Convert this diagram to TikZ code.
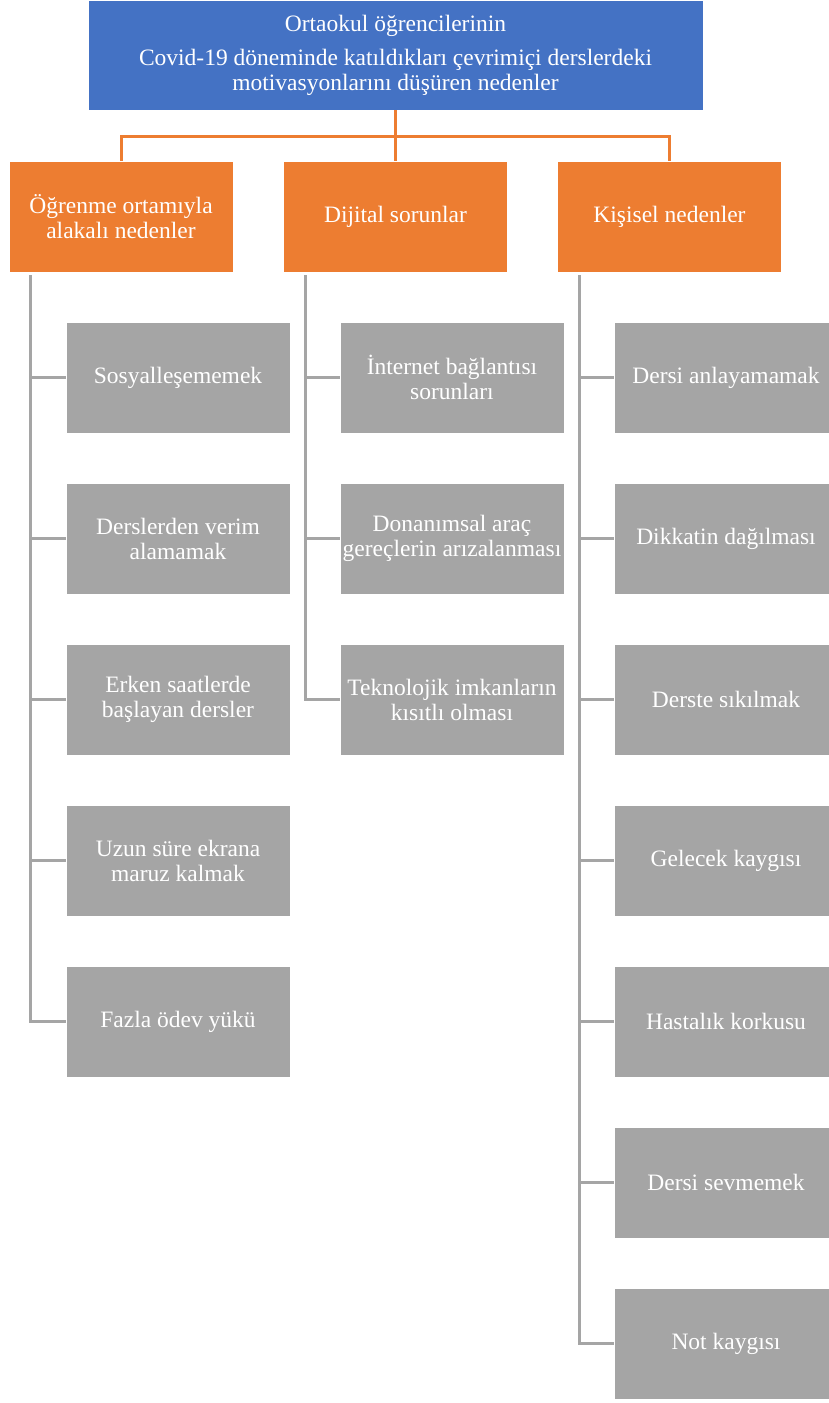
\documentclass[tikz,border=0pt]{standalone}
\usepackage{fontspec}
\setmainfont{Liberation Serif}
\definecolor{topblue}{HTML}{4472C4}
\definecolor{mainorange}{HTML}{ED7D31}
\definecolor{leafgray}{HTML}{A5A5A5}

\begin{document}
\begin{tikzpicture}[x=1pt, y=-1pt,
  box/.style={shape=rectangle, draw=white, line width=0.6pt, text=white, align=center,
    minimum width=224pt, minimum height=111pt, inner sep=0pt,
    font=\fontsize{23.5}{25}\selectfont},
  topbox/.style={box, fill=topblue, minimum width=615pt, minimum height=110pt},
  mainbox/.style={box, fill=mainorange},
  leafbox/.style={box, fill=leafgray},
  orangeline/.style={draw=mainorange, line width=3pt},
  grayline/.style={draw=leafgray, line width=3pt}]
\useasboundingbox (0,0) rectangle (829,1403);

\node[topbox] (T) at (395.5, 55) {Ortaokul öğrencilerinin\\[9pt]Covid-19 döneminde katıldıkları çevrimiçi derslerdeki\\motivasyonlarını düşüren nedenler};

\node[mainbox] (A) at (121, 216.5) {Öğrenme ortamıyla\\alakalı nedenler};
\node[mainbox] (B) at (395.5, 216.5) {Dijital sorunlar};
\node[mainbox] (C) at (669.5, 216.5) {Kişisel nedenler};

\node[leafbox] (A1) at (178, 377.5) {Sosyalleşememek};
\node[leafbox] (A2) at (178, 538.5) {Derslerden verim\\alamamak};
\node[leafbox] (A3) at (178, 699.5) {Erken saatlerde\\başlayan dersler};
\node[leafbox] (A4) at (178, 860.5) {Uzun süre ekrana\\maruz kalmak};
\node[leafbox] (A5) at (178, 1021.5) {Fazla ödev yükü};

\node[leafbox] (B1) at (452, 377.5) {İnternet bağlantısı\\sorunları};
\node[leafbox] (B2) at (452, 538.5) {Donanımsal araç\\gereçlerin arızalanması};
\node[leafbox] (B3) at (452, 699.5) {Teknolojik imkanların\\kısıtlı olması};

\node[leafbox] (C1) at (726, 377.5) {Dersi anlayamamak};
\node[leafbox] (C2) at (726, 538.5) {Dikkatin dağılması};
\node[leafbox] (C3) at (726, 699.5) {Derste sıkılmak};
\node[leafbox] (C4) at (726, 860.5) {Gelecek kaygısı};
\node[leafbox] (C5) at (726, 1021.5) {Hastalık korkusu};
\node[leafbox] (C6) at (726, 1182.5) {Dersi sevmemek};
\node[leafbox] (C7) at (726, 1343.5) {Not kaygısı};

% orange elbows
\coordinate (J) at (395.5, 136);
\path[orangeline] (T.south) -- (J);
\path[orangeline] (A.north) |- (J) -| (C.north);
\path[orangeline] (J) -- (B.north);

% gray branches
\coordinate (Atop) at (30, 275);
\coordinate (Btop) at (305, 275);
\coordinate (Ctop) at (579, 275);
\path[grayline] (Atop) |- (A5.west);
\path[grayline] (Atop |- A1.west) -- (A1.west);
\path[grayline] (Atop |- A2.west) -- (A2.west);
\path[grayline] (Atop |- A3.west) -- (A3.west);
\path[grayline] (Atop |- A4.west) -- (A4.west);
\path[grayline] (Btop) |- (B3.west);
\path[grayline] (Btop |- B1.west) -- (B1.west);
\path[grayline] (Btop |- B2.west) -- (B2.west);
\path[grayline] (Ctop) |- (C7.west);
\path[grayline] (Ctop |- C1.west) -- (C1.west);
\path[grayline] (Ctop |- C2.west) -- (C2.west);
\path[grayline] (Ctop |- C3.west) -- (C3.west);
\path[grayline] (Ctop |- C4.west) -- (C4.west);
\path[grayline] (Ctop |- C5.west) -- (C5.west);
\path[grayline] (Ctop |- C6.west) -- (C6.west);
\end{tikzpicture}
\end{document}
